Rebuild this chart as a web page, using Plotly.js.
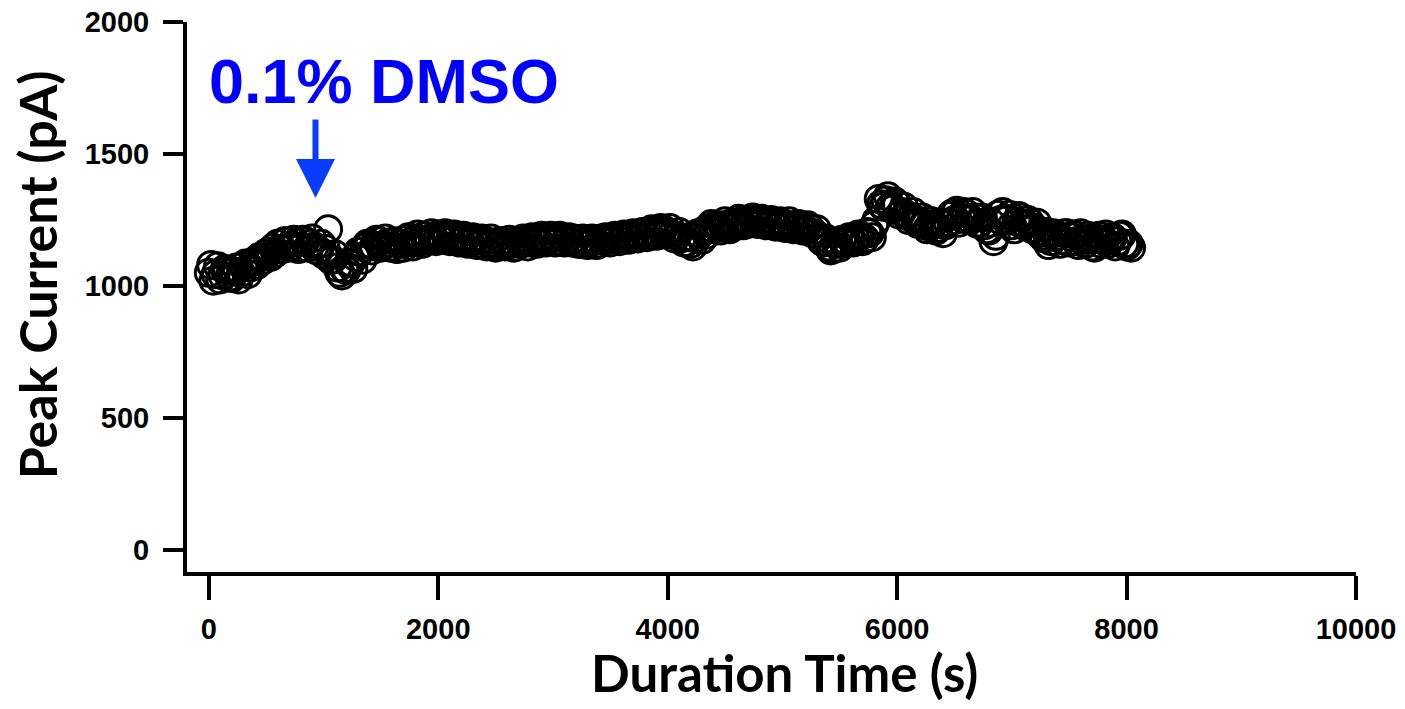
<!DOCTYPE html>
<html>
<head>
<meta charset="utf-8">
<script src="https://cdn.plot.ly/plotly-3.0.1.min.js"></script>
<style>html,body{margin:0;padding:0;background:#fff;}#chart{width:1405px;height:709px;}</style>
</head>
<body>
<div id="chart"></div>
<script>
// Duration time (s), sweep set A
const timeA = [
  0,40,80,120,160,200,240,280,320,360,
  400,440,480,520,560,600,640,680,720,760,
  800,840,880,920,960,1000,1040,1080,1120,1160,
  1200,1240,1280,1320,1360,1400,1440,1480,1520,1560,
  1600,1640,1680,1720,1760,1800,1840,1880,1920,1960,
  2000,2040,2080,2120,2160,2200,2240,2280,2320,2360,
  2400,2440,2480,2520,2560,2600,2640,2680,2720,2760,
  2800,2840,2880,2920,2960,3000,3040,3080,3120,3160,
  3200,3240,3280,3320,3360,3400,3440,3480,3520,3560,
  3600,3640,3680,3720,3760,3800,3840,3880,3920,3960,
  4000,4040,4080,4120,4160,4200,4240,4280,4320,4360,
  4400,4440,4480,4520,4560,4600,4640,4680,4720,4760,
  4800,4840,4880,4920,4960,5000,5040,5080,5120,5160,
  5200,5240,5280,5320,5360,5400,5440,5480,5520,5560,
  5600,5640,5680,5720,5760,5800,5840,5880,5920,5960,
  6000,6040,6080,6120,6160,6200,6240,6280,6320,6360,
  6400,6440,6480,6520,6560,6600,6640,6680,6720,6760,
  6800,6840,6880,6920,6960,7000,7040,7080,7120,7160,
  7200,7240,7280,7320,7360,7400,7440,7480,7520,7560,
  7600,7640,7680,7720,7760,7800,7840,7880,7920,7960,
  8000,8040
];
// Peak current (pA), sweep set A
const currentA = [
  1050,1020,1075,1040,1060,1030,1070,1050,1085,1070,
  1095,1110,1100,1130,1145,1160,1140,1170,1150,1165,
  1145,1170,1160,1150,1135,1120,1215,1100,1070,1040,
  1060,1090,1110,1130,1145,1160,1150,1170,1155,1165,
  1150,1140,1160,1175,1165,1180,1170,1190,1175,1185,
  1195,1180,1190,1175,1185,1170,1180,1165,1175,1160,
  1170,1160,1165,1150,1170,1155,1165,1150,1160,1170,
  1165,1180,1170,1185,1175,1180,1170,1185,1175,1165,
  1175,1160,1170,1165,1175,1160,1170,1180,1175,1185,
  1180,1190,1185,1195,1190,1200,1195,1210,1200,1215,
  1205,1195,1190,1180,1165,1160,1180,1195,1210,1220,
  1215,1225,1230,1225,1240,1235,1245,1250,1240,1250,
  1240,1245,1235,1240,1230,1235,1225,1230,1220,1225,
  1215,1220,1200,1185,1165,1150,1140,1160,1175,1170,
  1180,1175,1190,1180,1200,1230,1330,1300,1340,1290,
  1310,1280,1270,1260,1250,1245,1230,1225,1235,1220,
  1200,1240,1275,1285,1260,1275,1250,1260,1240,1230,
  1210,1170,1270,1280,1250,1230,1245,1260,1235,1240,
  1220,1200,1180,1155,1200,1190,1175,1200,1185,1170,
  1200,1160,1180,1145,1190,1175,1160,1185,1170,1195,
  1150,1145
];
// Duration time (s), sweep set B
const timeB = [
  20,60,100,140,180,220,260,300,340,380,
  420,460,500,540,580,620,660,700,740,780,
  820,860,900,940,980,1020,1060,1100,1140,1180,
  1220,1260,1300,1340,1380,1420,1460,1500,1540,1580,
  1620,1660,1700,1740,1780,1820,1860,1900,1940,1980,
  2020,2060,2100,2140,2180,2220,2260,2300,2340,2380,
  2420,2460,2500,2540,2580,2620,2660,2700,2740,2780,
  2820,2860,2900,2940,2980,3020,3060,3100,3140,3180,
  3220,3260,3300,3340,3380,3420,3460,3500,3540,3580,
  3620,3660,3700,3740,3780,3820,3860,3900,3940,3980,
  4020,4060,4100,4140,4180,4220,4260,4300,4340,4380,
  4420,4460,4500,4540,4580,4620,4660,4700,4740,4780,
  4820,4860,4900,4940,4980,5020,5060,5100,5140,5180,
  5220,5260,5300,5340,5380,5420,5460,5500,5540,5580,
  5620,5660,5700,5740,5780,5820,5860,5900,5940,5980,
  6020,6060,6100,6140,6180,6220,6260,6300,6340,6380,
  6420,6460,6500,6540,6580,6620,6660,6700,6740,6780,
  6820,6860,6900,6940,6980,7020,7060,7100,7140,7180,
  7220,7260,7300,7340,7380,7420,7460,7500,7540,7580,
  7620,7660,7700,7740,7780,7820,7860,7900,7940,7980,
  8020
];
// Peak current (pA), sweep set B
const currentB = [
  1080,1045,1025,1065,1035,1055,1025,1075,1045,1090,
  1080,1095,1125,1110,1125,1140,1170,1145,1175,1140,
  1175,1145,1180,1135,1160,1140,1100,1120,1050,1065,
  1085,1065,1130,1100,1160,1135,1175,1145,1180,1145,
  1170,1160,1145,1185,1150,1195,1160,1175,1200,1170,
  1175,1200,1170,1195,1165,1190,1160,1185,1155,1180,
  1150,1180,1145,1170,1150,1175,1145,1170,1180,1150,
  1185,1160,1190,1165,1190,1165,1190,1165,1185,1180,
  1160,1180,1155,1180,1155,1180,1185,1165,1190,1170,
  1195,1175,1200,1180,1205,1185,1215,1190,1220,1195,
  1220,1180,1205,1165,1185,1150,1200,1175,1195,1235,
  1230,1210,1245,1215,1225,1255,1230,1235,1260,1235,
  1255,1230,1250,1225,1245,1220,1245,1215,1235,1210,
  1230,1200,1215,1170,1180,1135,1165,1145,1160,1185,
  1165,1195,1170,1205,1185,1250,1310,1325,1300,1320,
  1270,1300,1250,1280,1235,1260,1215,1245,1210,1240,
  1230,1265,1250,1240,1280,1250,1280,1235,1260,1215,
  1240,1190,1250,1255,1270,1215,1265,1230,1250,1215,
  1240,1190,1205,1170,1185,1160,1200,1165,1195,1155,
  1175,1190,1150,1180,1160,1195,1180,1150,1190,1160,
  1160
];
const xTickVals = [0,2000,4000,6000,8000,10000];
const yTickVals = [0,500,1000,1500,2000];
const xTitle = 'Duration Time (s)';
const yTitle = 'Peak Current (pA)';
const annotationText = '0.1% DMSO';
const arrowTime = 930;
const arrowCurrent = 1333;

const tickFont = {family:'Liberation Sans, Arial, sans-serif', size:29, color:'#000', weight:700};
const xTitleFont = {family:'Lato, Open Sans, sans-serif', size:51, color:'#000', weight:700};
const yTitleFont = {family:'Lato, Open Sans, sans-serif', size:52, color:'#000', weight:700};
const markerStyle = {symbol:'circle-open', size:27, color:'#000', line:{width:3, color:'#000'}};

const traces = [
  {x: timeA, y: currentA, type:'scatter', mode:'markers', marker:markerStyle, hoverinfo:'skip'},
  {x: timeB, y: currentB, type:'scatter', mode:'markers', marker:markerStyle, hoverinfo:'skip'}
];

const layout = {
  width:1405, height:709,
  margin:{l:187, r:49, t:22, b:137},
  paper_bgcolor:'#fff', plot_bgcolor:'#fff',
  showlegend:false,
  xaxis:{
    range:[-190,10000], tickvals:xTickVals, ticktext:xTickVals.map(String),
    showgrid:false, zeroline:false, showline:true, linewidth:4, linecolor:'#000',
    ticks:'outside', ticklen:24, tickwidth:4, tickcolor:'#000',
    tickfont:tickFont, ticklabelstandoff:4
  },
  yaxis:{
    range:[-83,2000], tickvals:yTickVals, ticktext:yTickVals.map(String),
    showgrid:false, zeroline:false, showline:true, linewidth:4, linecolor:'#000',
    ticks:'outside', ticklen:20, tickwidth:4, tickcolor:'#000',
    tickfont:tickFont, ticklabelstandoff:8
  },
  annotations:[
    {xref:'paper', yref:'paper', x:0.511, y:-0.183, xanchor:'center', yanchor:'middle',
     text:xTitle, showarrow:false, font:xTitleFont},
    {xref:'paper', yref:'paper', x:-0.128, y:0.54, xanchor:'center', yanchor:'middle',
     text:yTitle, textangle:-90, showarrow:false, font:yTitleFont},
    {xref:'paper', yref:'paper', x:0.1685, y:0.893, xanchor:'center', yanchor:'middle',
     text:annotationText, showarrow:false,
     font:{family:'Liberation Sans, Arial, sans-serif', size:63, color:'#0000ff', weight:700}},
    {xref:'x', yref:'y', x:arrowTime, y:arrowCurrent, text:'', showarrow:true,
     axref:'pixel', ayref:'pixel', ax:0, ay:-80,
     arrowhead:2, arrowsize:1.3, arrowwidth:6, arrowcolor:'#0a3cff', standoff:0}
  ]
};

Plotly.newPlot('chart', traces, layout, {displayModeBar:false, staticPlot:true});
</script>
</body>
</html>
